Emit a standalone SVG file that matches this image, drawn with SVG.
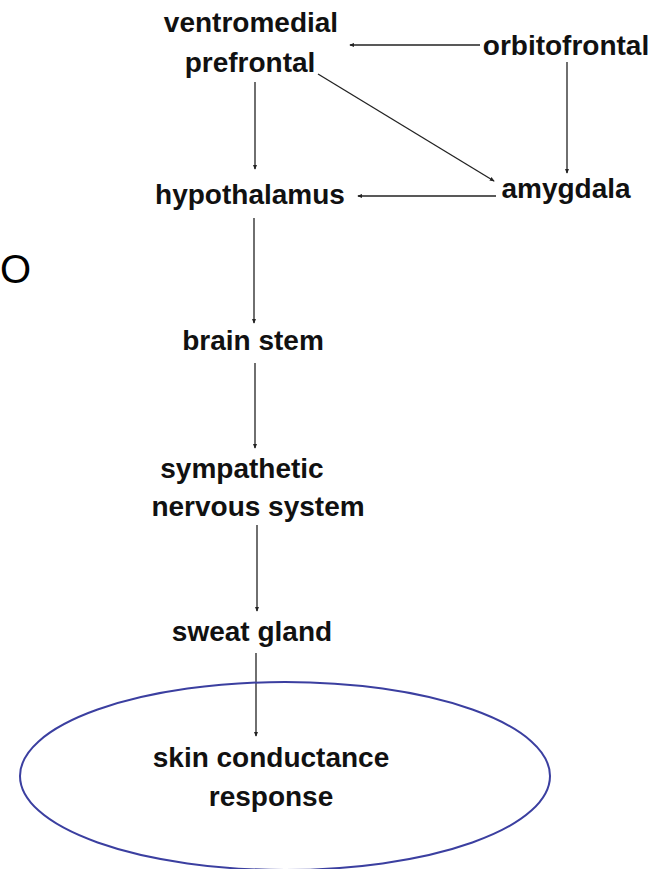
<svg xmlns="http://www.w3.org/2000/svg" width="656" height="869" viewBox="0 0 656 869">
<style>
.t{font-family:"Liberation Sans",Arial,sans-serif;font-weight:bold;font-size:28px;fill:#111;text-anchor:middle}
.c{stroke:#222;stroke-width:1.3;fill:none;marker-end:url(#a)}
</style>
<defs>
<marker id="a" viewBox="0 0 6 6" refX="5" refY="3" markerWidth="5" markerHeight="5" orient="auto" markerUnits="userSpaceOnUse">
<path d="M0,0.5 L6,3 L0,5.5 z" fill="#222"/>
</marker>
</defs>
<rect width="656" height="869" fill="#fff"/>
<g id="connectors">
<line class="c" x1="480" y1="45" x2="350" y2="45"/>
<line class="c" x1="255" y1="82" x2="255" y2="169"/>
<line class="c" x1="318" y1="74" x2="494" y2="181"/>
<line class="c" x1="567" y1="62" x2="567" y2="173"/>
<line class="c" x1="496" y1="196" x2="358" y2="196"/>
<line class="c" x1="254" y1="218" x2="254" y2="323"/>
<line class="c" x1="255" y1="363" x2="255" y2="448"/>
<line class="c" x1="257" y1="525" x2="257" y2="611"/>
<line class="c" x1="256" y1="653" x2="256" y2="736"/>
</g>
<g id="ventromedial"><text class="t" x="251" y="32">ventromedial</text><text class="t" x="250" y="72">prefrontal</text></g>
<g id="orbitofrontal"><text class="t" x="566" y="55">orbitofrontal</text></g>
<g id="hypothalamus"><text class="t" x="250" y="204">hypothalamus</text></g>
<g id="amygdala"><text class="t" x="566" y="198">amygdala</text></g>
<g id="brainstem"><text class="t" x="253" y="350">brain stem</text></g>
<g id="sympathetic"><text class="t" x="242" y="478">sympathetic</text><text class="t" x="258" y="516">nervous system</text></g>
<g id="sweatgland"><text class="t" x="252" y="641">sweat gland</text></g>
<g id="scr"><ellipse cx="285" cy="776" rx="265" ry="94" fill="none" stroke="#3b3fa0" stroke-width="2"/><text class="t" x="271" y="767">skin conductance</text><text class="t" x="271" y="806">response</text></g>
<g id="o"><text x="0" y="283" font-family="'Liberation Sans',Arial,sans-serif" font-size="40" fill="#000">O</text></g>
</svg>
